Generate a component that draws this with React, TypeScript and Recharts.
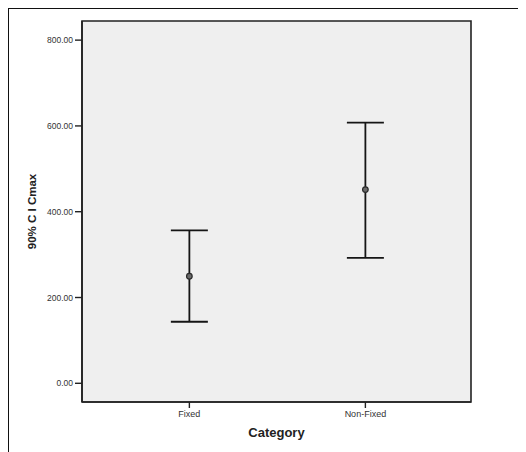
import React from 'react';
import { ComposedChart, Scatter, ErrorBar, XAxis, YAxis, ReferenceArea } from 'recharts';

// group names and their positions on the x axis
const categories = ['Fixed', 'Non-Fixed'];
const positions = [1, 2];

// 90% CI of Cmax: mean, lower and upper bound
const means = [249.5, 451.5];
const lowers = [143.5, 292.5];
const uppers = [356.5, 607.5];

const yTicks = [0, 200, 400, 600, 800];
const xDomain = [0.39, 2.6];
const yDomain = [-43.6, 844.6];

const data = categories.map((name, i) => ({
  name,
  x: positions[i],
  mean: means[i],
  ci: [means[i] - lowers[i], uppers[i] - means[i]],
}));

const FONT = '"Liberation Sans", Arial, sans-serif';

const MeanDot = (props: any) => (
  <circle cx={props.cx} cy={props.cy} r={2.8} fill="#6a6a6a" stroke="#2a2a2a" strokeWidth={1.2} />
);

const YTitle = (props: any) => {
  const vb = props.viewBox;
  const x = vb.x + 23;
  const y = vb.y + vb.height / 2;
  return (
    <text
      x={x}
      y={y}
      transform={`rotate(-90, ${x}, ${y})`}
      textAnchor="middle"
      dominantBaseline="central"
      fontFamily={FONT}
      fontWeight="bold"
      fontSize={11.5}
      fill="#222"
    >
      90% C I Cmax
    </text>
  );
};

export default function App() {
  return (
    <div style={{ fontFamily: FONT }}>
      <style>{'html,body{overflow:hidden}'}</style>
      <div
        style={{
          width: 512,
          height: 460,
          borderTop: '1px solid #111',
          borderLeft: '1px solid #111',
          borderRight: '1px solid #111',
        }}
      >
        <ComposedChart width={512} height={443} data={data} margin={{ top: 12, right: 50, bottom: 0, left: 0 }}>
          <XAxis
            type="number"
            dataKey="x"
            domain={xDomain}
            allowDataOverflow
            ticks={positions}
            tickFormatter={(v: number) => categories[positions.indexOf(v)] ?? ''}
            height={50}
            axisLine={{ stroke: '#222', strokeWidth: 1.6 }}
            tickLine={{ stroke: '#222', strokeWidth: 1.4 }}
            tickSize={6}
            tickMargin={3}
            tick={{ fill: '#333', fontSize: 9, fontFamily: FONT }}
            label={{ value: 'Category', position: 'insideTop', offset: 26, fill: '#222', fontSize: 13, fontWeight: 'bold', fontFamily: FONT }}
          />
          <YAxis
            type="number"
            domain={yDomain}
            ticks={yTicks}
            allowDataOverflow
            width={73}
            tickFormatter={(v: number) => v.toFixed(2)}
            axisLine={{ stroke: '#222', strokeWidth: 1.6 }}
            tickLine={{ stroke: '#222', strokeWidth: 1.4 }}
            tickSize={7}
            tickMargin={2}
            tick={{ fill: '#333', fontSize: 8.5, fontFamily: FONT }}
            label={<YTitle />}
          />
          <ReferenceArea
            x1={xDomain[0]}
            x2={xDomain[1]}
            y1={yDomain[0]}
            y2={yDomain[1]}
            ifOverflow="visible"
            fill="#efefef"
            fillOpacity={1}
            stroke="#222"
            strokeWidth={1.6}
          />
          <Scatter dataKey="mean" shape={<MeanDot />} isAnimationActive={false}>
            <ErrorBar dataKey="ci" direction="y" width={18.5} stroke="#151515" strokeWidth={1.8} isAnimationActive={false} />
          </Scatter>
        </ComposedChart>
      </div>
    </div>
  );
}
